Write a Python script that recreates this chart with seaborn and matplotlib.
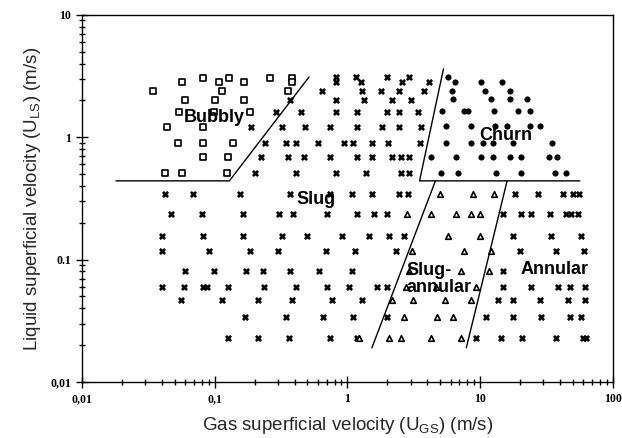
import pandas as pd
import matplotlib
matplotlib.use("Agg")
import matplotlib.pyplot as plt
import seaborn as sns
from matplotlib.ticker import LogLocator, NullFormatter

# --- Données lues sur la carte (vitesses superficielles, m/s)
# chaque régime : une liste de U_LS (lignes) et, pour chaque ligne, les U_GS
bubbly_uls = [3.05, 2.83, 2.39, 2.02, 1.61, 1.21, 0.90, 0.69, 0.51]
bubbly_ugs = [
    [0.081, 0.127, 0.262, 0.383],
    [0.057, 0.107, 0.167, 0.383],
    [0.034, 0.114, 0.357],
    [0.060, 0.0996, 0.167],
    [0.054, 0.099, 0.186],
    [0.044, 0.081],
    [0.053, 0.082, 0.138],
    [0.081, 0.125],
    [0.042, 0.057, 0.123],
]

slug_uls = [3.1, 2.85, 2.4, 2.02, 1.62, 1.22, 0.90, 0.69, 0.51,
            0.344, 0.236, 0.156, 0.118, 0.0808, 0.0598, 0.0468, 0.034, 0.0229]
slug_ugs = [
    [0.819, 1.16, 1.98, 2.89],
    [0.819, 1.26, 2.56, 4.09],
    [0.643, 1.29, 1.79, 2.44, 3.75],
    [0.370, 0.819, 1.33, 2.16, 3.0],
    [0.291, 0.446, 0.819, 1.18, 1.98, 2.44, 3.38],
    [0.189, 0.322, 0.480, 0.738, 1.18, 1.82, 2.44, 3.56],
    [0.240, 0.345, 0.410, 0.600, 0.941, 1.10, 1.53, 2.01, 3.50],
    [0.224, 0.357, 0.471, 0.738, 1.18, 1.53, 2.16, 2.52, 2.89],
    [0.202, 0.410, 0.819, 1.38, 2.52, 2.89],
    [0.042, 0.069, 0.156, 0.370, 0.738, 1.08, 1.53, 2.44, 2.84],
    [0.047, 0.080, 0.164, 0.306, 0.390, 0.701, 1.18, 1.58, 1.98],
    [0.040, 0.082, 0.162, 0.322, 0.497, 0.908, 1.45, 2.05, 2.65],
    [0.040, 0.091, 0.186, 0.301, 0.689, 1.14, 2.31],
    [0.060, 0.098, 0.173, 0.232, 0.370, 0.611, 1.08],
    [0.040, 0.059, 0.081, 0.087, 0.125, 0.236, 0.410, 0.701, 1.03, 1.67, 1.98],
    [0.056, 0.114, 0.213, 0.383, 0.764, 1.29],
    [0.170, 0.345, 0.655, 1.10, 1.98],
    [0.125, 0.213, 0.364, 0.738, 1.18],
]

churn_uls = [3.1, 2.85, 2.4, 2.05, 1.64, 1.23, 0.90, 0.69, 0.51]
churn_ugs = [
    [5.77],
    [6.51, 10.2, 14.7],
    [6.18, 10.9, 16.9],
    [6.29, 12.1, 16.9, 22.6],
    [5.20, 7.61, 8.16, 12.8, 19.4, 23.8],
    [5.58, 8.59, 13.0, 16.0, 23.8, 28.3],
    [5.58, 8.59, 10.6, 12.6, 17.8, 34.9],
    [4.30, 6.63, 10.2, 12.6, 16.9, 20.4, 33.1, 37.9],
    [5.11, 6.86, 13.2, 20.4, 36.7, 44.4],
]

slug_annular_uls = [0.344, 0.236, 0.156, 0.118, 0.0808, 0.0598, 0.0468, 0.034, 0.0229]
slug_annular_ugs = [
    [5.03, 8.91, 12.8],
    [2.80, 4.30, 6.63, 8.59, 10.0],
    [5.77, 10.0],
    [3.05, 7.61, 12.1],
    [2.89, 7.23, 11.7],
    [2.75, 4.65, 9.37],
    [2.16, 3.15, 5.48, 8.59],
    [2.65, 4.72, 6.29],
    [1.22, 2.05, 2.52, 4.30, 7.23],
]

annular_uls = [0.344, 0.236, 0.156, 0.118, 0.0808, 0.0598, 0.0468, 0.034, 0.0229]
annular_ugs = [
    [18.4, 27.4, 42.1, 50.0, 55.5],
    [14.9, 20.4, 24.2, 33.7, 44.4, 48.3, 54.6],
    [17.8, 34.3, 57.5],
    [20.1, 37.3, 60.6],
    [14.9],
    [14.9, 24.2, 38.6, 47.5, 61.6],
    [13.7, 17.8, 28.3, 45.9, 61.6],
    [11.1, 17.8, 28.8, 47.5, 57.5],
    [9.37, 14.4, 20.8, 37.3, 59.5, 62.7],
]

# --- Frontières de transition
bubbly_slug_ugs = [0.018, 0.129, 0.514]
bubbly_slug_uls = [0.44, 0.44, 3.11]
churn_ugs_line = [5.30, 3.50, 56.5]
churn_uls_line = [3.62, 0.44, 0.44]
sa_left_ugs = [4.61, 1.53]
sa_left_uls = [0.44, 0.019]
sa_right_ugs = [16.0, 7.88]
sa_right_uls = [0.44, 0.019]


def rows_to_df(uls, ugs_rows):
    recs = []
    for yl, xs in zip(uls, ugs_rows):
        for xg in xs:
            recs.append({"ugs": xg, "uls": yl})
    return pd.DataFrame(recs)


sns.set_style("ticks")
plt.rcParams["font.family"] = ["Liberation Sans", "DejaVu Sans"]

fig, ax = plt.subplots(figsize=(6.22, 4.38), dpi=100)
fig.subplots_adjust(left=0.132, right=0.985, bottom=0.128, top=0.966)

ax.set_xscale("log")
ax.set_yscale("log")

# Points par régime
sns.scatterplot(data=rows_to_df(bubbly_uls, bubbly_ugs), x="ugs", y="uls",
                marker="s", s=14, facecolor="white", edgecolor="black",
                linewidth=1.2, ax=ax, legend=False)
sns.scatterplot(data=rows_to_df(slug_uls, slug_ugs), x="ugs", y="uls",
                marker="x", s=14, color="black", linewidth=1.9, ax=ax, legend=False)
sns.scatterplot(data=rows_to_df(annular_uls, annular_ugs), x="ugs", y="uls",
                marker="x", s=14, color="black", linewidth=1.9, ax=ax, legend=False)
sns.scatterplot(data=rows_to_df(churn_uls, churn_ugs), x="ugs", y="uls",
                marker="o", s=15, facecolor="black", edgecolor="black",
                linewidth=0.5, ax=ax, legend=False)
sns.scatterplot(data=rows_to_df(slug_annular_uls, slug_annular_ugs), x="ugs", y="uls",
                marker="^", s=16, facecolor="white", edgecolor="black",
                linewidth=1.2, ax=ax, legend=False)

# Frontières
for xs, ys in [(bubbly_slug_ugs, bubbly_slug_uls), (churn_ugs_line, churn_uls_line),
               (sa_left_ugs, sa_left_uls), (sa_right_ugs, sa_right_uls)]:
    ax.plot(xs, ys, color="black", linewidth=1.0)

# Noms des régimes
lab_kw = dict(fontsize=13, fontweight="bold", color="black")
ax.text(0.1, 1.44, "Bubbly", ha="center", va="center", **lab_kw)
ax.text(0.58, 0.307, "Slug", ha="center", va="center", **lab_kw)
ax.text(15.7, 1.03, "Churn", ha="center", va="center", **lab_kw)
ax.text(2.8, 0.0695, "Slug-\nannular", ha="left", va="center", linespacing=0.95, **lab_kw)
ax.text(36.7, 0.0835, "Annular", ha="center", va="center", **lab_kw)

ax.set_xlim(0.01, 100)
ax.set_ylim(0.01, 10)

# Graduations
ax.set_xticks([0.01, 0.1, 1, 10, 100])
ax.set_xticklabels(["0,01", "0,1", "1", "10", "100"])
ax.set_yticks([0.01, 0.1, 1, 10])
ax.set_yticklabels(["0,01", "0.1", "1", "10"])
ax.xaxis.set_minor_locator(LogLocator(base=10, subs=range(2, 10)))
ax.yaxis.set_minor_locator(LogLocator(base=10, subs=range(2, 10)))
ax.xaxis.set_minor_formatter(NullFormatter())
ax.yaxis.set_minor_formatter(NullFormatter())
ax.tick_params(which="major", direction="inout", length=8, width=1, colors="black",
               top=False, right=False, pad=4)
ax.tick_params(which="minor", direction="inout", length=5, width=1, colors="black",
               top=False, right=False)
for lab in ax.get_xticklabels() + ax.get_yticklabels():
    lab.set_fontfamily(["Liberation Serif", "DejaVu Serif"])
    lab.set_fontweight("bold")
    lab.set_fontsize(8.5)

for sp in ax.spines.values():
    sp.set_color("black")
    sp.set_linewidth(1.0)

ax.set_xlabel("Gas superficial velocity (U$_{\\mathregular{GS}}$) (m/s)", fontsize=13.5,
              labelpad=7)
ax.set_ylabel("Liquid superficial velocity (U$_{\\mathregular{LS}}$) (m/s)", fontsize=13.5,
              labelpad=5)

fig.savefig("out.png", dpi=100)
